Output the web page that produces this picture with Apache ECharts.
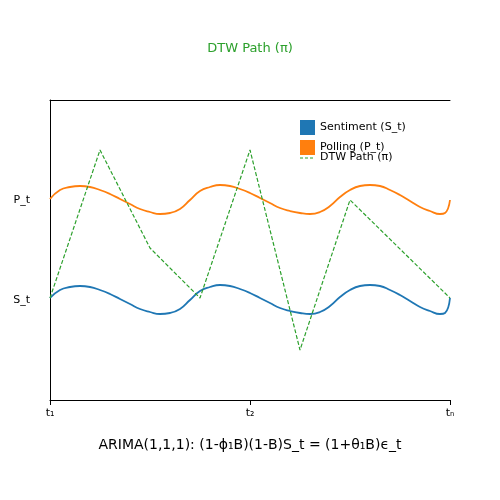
<!DOCTYPE html>
<html>
<head>
<meta charset="utf-8">
<script src="https://cdn.jsdelivr.net/npm/echarts@6/dist/echarts.min.js"></script>
<style>html,body{margin:0;padding:0;background:#fff}#main{width:500px;height:500px}</style>
</head>
<body>
<div id="main"></div>
<script>
// 时间轴采样点
var xs = [0,10,20,30,40,50,60,70,80,90,100,110,120,130,140,150,160,170,180,190,200,
          210,220,230,240,250,260,270,280,290,300,310,320,330,340,350,360,370,380,390,395,400];
// 情绪序列 S_t
var sentiment = [1.02,1.10,1.13,1.14,1.13,1.10,1.06,1.01,0.96,0.91,0.88,0.86,0.87,0.91,1.00,1.09,1.13,1.15,1.14,1.11,1.07,
                 1.02,0.97,0.92,0.89,0.87,0.86,0.88,0.94,1.03,1.10,1.14,1.15,1.14,1.10,1.05,0.99,0.93,0.89,0.86,0.87,1.02];
// 民调序列 P_t
var polling = [2.01,2.10,2.13,2.14,2.13,2.10,2.06,2.01,1.96,1.91,1.88,1.86,1.87,1.91,2.00,2.09,2.13,2.15,2.14,2.11,2.07,
               2.02,1.97,1.92,1.89,1.87,1.86,1.88,1.94,2.03,2.10,2.14,2.15,2.14,2.10,2.05,0.99+1,1.93,1.89,1.86,1.87,2.00];
// DTW 路径
var dtwX = [0,50,100,150,200,250,300,400];
var dtwY = [1.02,2.5,1.52,1.02,2.5,0.5,2.0,1.02];
var tickLabels = {0:'t₁',200:'t₂',400:'tₙ'};
var yLabels = {1:'S_t',2:'P_t'};

function pairs(a, b) {
	var out = [];
	for (var i = 0; i < a.length; i++) out.push([a[i], b[i]]);
	return out;
}

var myChart = echarts.init(document.getElementById('main'));
var font = 'DejaVu Sans';
var option = {
	animation: false,
	textStyle: {fontFamily: font},
	title: {
		text: 'DTW Path (π)', left: 'center', top: 37,
		textStyle: {color: '#2ca02c', fontSize: 13, fontWeight: 'normal', fontFamily: font}
	},
	grid: {left: 50, right: 50, top: 100, bottom: 100},
	xAxis: [{
		type: 'value', min: 0, max: 400, interval: 200,
		axisLine: {lineStyle: {color: '#000'}},
		axisTick: {show: true, lineStyle: {color: '#000'}},
		splitLine: {show: false},
		axisLabel: {color: '#000', fontSize: 11, margin: 8, formatter: function (v) { return tickLabels[v] || ''; }}
	}, {
		type: 'value', position: 'top', min: 0, max: 400,
		axisLine: {show: true, lineStyle: {color: '#000'}},
		axisTick: {show: false}, axisLabel: {show: false}, splitLine: {show: false}
	}],
	yAxis: {
		type: 'value', min: 0, max: 3, interval: 1,
		axisLine: {show: true, lineStyle: {color: '#000'}},
		axisTick: {show: false},
		splitLine: {show: false},
		axisLabel: {color: '#000', fontSize: 11, margin: 20, formatter: function (v) { return yLabels[v] || ''; }}
	},
	series: [{
		name: 'Sentiment (S_t)', type: 'line', data: pairs(xs, sentiment), smooth: true,
		showSymbol: false, lineStyle: {color: '#1f77b4', width: 1.8}
	}, {
		name: 'Polling (P_t)', type: 'line', data: pairs(xs, polling), smooth: true,
		showSymbol: false, lineStyle: {color: '#ff7f0e', width: 1.8}
	}, {
		name: 'DTW Path (π)', type: 'line', data: pairs(dtwX, dtwY),
		showSymbol: false, lineStyle: {color: '#2ca02c', width: 1.2, type: [4, 2]}
	}],
	graphic: [
		{type: 'rect', shape: {x: 300, y: 120, width: 15, height: 15}, style: {fill: '#1f77b4'}},
		{type: 'text', x: 320, y: 122, style: {text: 'Sentiment (S_t)', fontSize: 11, fontFamily: font, fill: '#000'}},
		{type: 'rect', shape: {x: 300, y: 140, width: 15, height: 15}, style: {fill: '#ff7f0e'}},
		{type: 'text', x: 320, y: 142, style: {text: 'Polling (P_t)', fontSize: 11, fontFamily: font, fill: '#000'}},
		{type: 'line', shape: {x1: 300, y1: 158, x2: 315, y2: 158}, style: {stroke: '#2ca02c', lineWidth: 1.2, lineDash: [3, 2]}},
		{type: 'text', x: 320, y: 152, style: {text: 'DTW Path (π)', fontSize: 11, fontFamily: font, fill: '#000'}},
		{type: 'text', x: 250, y: 438, style: {text: 'ARIMA(1,1,1): (1-ϕ₁B)(1-B)S_t = (1+θ₁B)ϵ_t', fontSize: 14, fontFamily: font, fill: '#000', align: 'center'}}
	]
};
myChart.setOption(option);
</script>
</body>
</html>
